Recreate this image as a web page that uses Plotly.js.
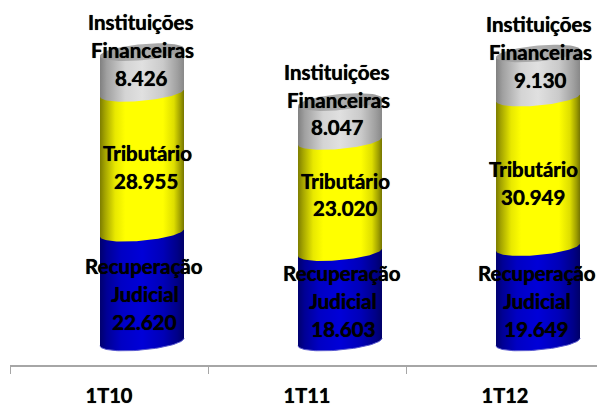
<!DOCTYPE html>
<html><head><meta charset="utf-8">
<script src="https://cdn.plot.ly/plotly-3.0.1.min.js"></script>
<style>html,body{margin:0;padding:0;background:#fff}</style></head>
<body><div id="chart" style="width:597px;height:405px"></div>
<script>
const categories = ["1T10","1T11","1T12"];
const recuperacao = [22620,18603,19649];
const tributario = [28955,23020,30949];
const instituicoes = [8426,8047,9130];
const seriesNames = {rec:["Recuperação","Judicial"],tri:["Tributário"],ins:["Instituições","Financeiras"]};

// chart geometry
const W=597,H=405,axisPx=365,zeroPx=342,pxPerUnit=0.00483,left=10,catW=198;
const barOffsetPx=33, radiusPx=42, tiltPx=3.75, bulgePx=8;
const xv=px=>(px-left)/catW-0.5;
const yv=py=>(zeroPx-py)/pxPerUnit;
const off=barOffsetPx/catW, r=radiusPx/catW;
const xpos=categories.map((c,i)=>i);

const yellowScale=[[0,'#7d7d00'],[0.06,'#a5a500'],[0.18,'#e8e800'],[0.3,'#ffff00'],[0.75,'#ffff00'],[0.88,'#dede00'],[0.96,'#9c9c00'],[1,'#757500']];
const blueScale=[[0,'#00006e'],[0.08,'#000095'],[0.25,'#0000c4'],[0.5,'#0000d8'],[0.75,'#0000b8'],[0.92,'#000088'],[1,'#000068']];
const grayScale=[[0,'#808080'],[0.08,'#a0a0a0'],[0.3,'#d4d4d4'],[0.5,'#e0e0e0'],[0.75,'#cacaca'],[0.92,'#a0a0a0'],[1,'#888888']];
const topScale=[[0,'#9a9a9a'],[0.5,'#b0b0b0'],[1,'#9a9a9a']];

function curve(i,v,a0,a1,n){const pts=[];for(let k=0;k<=n;k++){const t=a0+(a1-a0)*k/n;
  pts.push([i+off+r*Math.cos(t),v+(tiltPx*Math.cos(t)-bulgePx*Math.sin(t))/pxPerUnit]);}return pts;}
function poly(pts,scale,name){pts=pts.concat([pts[0]]);return {type:'scatter',mode:'lines',x:pts.map(p=>p[0]),y:pts.map(p=>p[1]),
  fill:'toself',fillgradient:{type:'horizontal',colorscale:scale},line:{width:0},hoverinfo:'skip',showlegend:false,name:name};}
function body(i,v0,v1,scale,name){const b=curve(i,v0,Math.PI,0,48);
  const tr=[i+off+r,v1+tiltPx/pxPerUnit], tl=[i+off-r,v1-tiltPx/pxPerUnit];
  return poly(b.concat([tr,tl]),scale,name);}

const traces=[];
const barBase={type:'bar',x:xpos,width:2*r*0.9,offset:off-r*0.9,showlegend:false};
traces.push(Object.assign({},barBase,{y:recuperacao,name:'Recuperação Judicial',marker:{color:'#0000c8'}}));
traces.push(Object.assign({},barBase,{y:tributario,name:'Tributário',marker:{color:'#ffff00'}}));
traces.push(Object.assign({},barBase,{y:instituicoes,name:'Instituições Financeiras',marker:{color:'#d0d0d0'}}));

xpos.forEach(i=>{
  const a=recuperacao[i],b=a+tributario[i],c=b+instituicoes[i];
  traces.push(body(i,0,a,blueScale,'rec'));
  const edge=curve(i,0,Math.PI,0,48);
  traces.push({type:'scatter',mode:'lines',x:edge.map(p=>p[0]),y:edge.map(p=>p[1]),line:{width:1,color:'#5a5ad0'},hoverinfo:'skip',showlegend:false});
  traces.push(body(i,a,b,yellowScale,'tri'));
  traces.push(body(i,b,c,grayScale,'ins'));
  traces.push(poly(curve(i,c,0,2*Math.PI,64),topScale,'top'));
});

const fmt=v=>(v/1000).toFixed(3);
const labelPos={
  ins:[[141,22,142,50,141,78],[337,72,338,100,337,127],[539,24,540,52,540,80]],
  tri:[[147,153,146,181],[345,181,345,208],[533,169,533,197]],
  rec:[[144,266,145,294,144,322],[342,273,343,301,343,329],[537,273,537,301,536,329]]
};
const annotations=[];
function addLabel(lines,coords){lines.forEach((t,k)=>annotations.push({text:t,x:xv(coords[2*k]),y:yv(coords[2*k+1]),xref:'x',yref:'y',
  showarrow:false,xanchor:'center',yanchor:'middle',font:{family:'Lato',size:20.5,color:'#000',weight:700,shadow:'0 0 0.7px #000'}}));}
xpos.forEach(i=>{
  addLabel(seriesNames.ins.concat(fmt(instituicoes[i])),labelPos.ins[i]);
  addLabel(seriesNames.tri.concat(fmt(tributario[i])),labelPos.tri[i]);
  addLabel(seriesNames.rec.concat(fmt(recuperacao[i])),labelPos.rec[i]);
});

const layout={width:W,height:H,margin:{l:left,r:0,t:0,b:H-axisPx,pad:0},paper_bgcolor:'#fff',plot_bgcolor:'#fff',
  barmode:'stack',showlegend:false,annotations,
  xaxis:{type:'linear',range:[-0.5,xv(W)],tickmode:'array',tickvals:xpos,ticktext:categories,ticks:'',showgrid:false,zeroline:false,
    showline:true,linecolor:'#a6a6a6',linewidth:1.5,ticklabelstandoff:12,
    tickfont:{family:'Lato',size:20,color:'#000',weight:700,shadow:'0 0 0.7px #000'},
    minor:{tickmode:'array',tickvals:[-0.5,0.5,1.5,2.5],ticks:'outside',ticklen:7,tickwidth:1,tickcolor:'#a6a6a6',showgrid:false}},
  yaxis:{range:[yv(axisPx),yv(0)],visible:false}};
Plotly.newPlot('chart',traces,layout,{displayModeBar:false,staticPlot:true});
</script></body></html>
